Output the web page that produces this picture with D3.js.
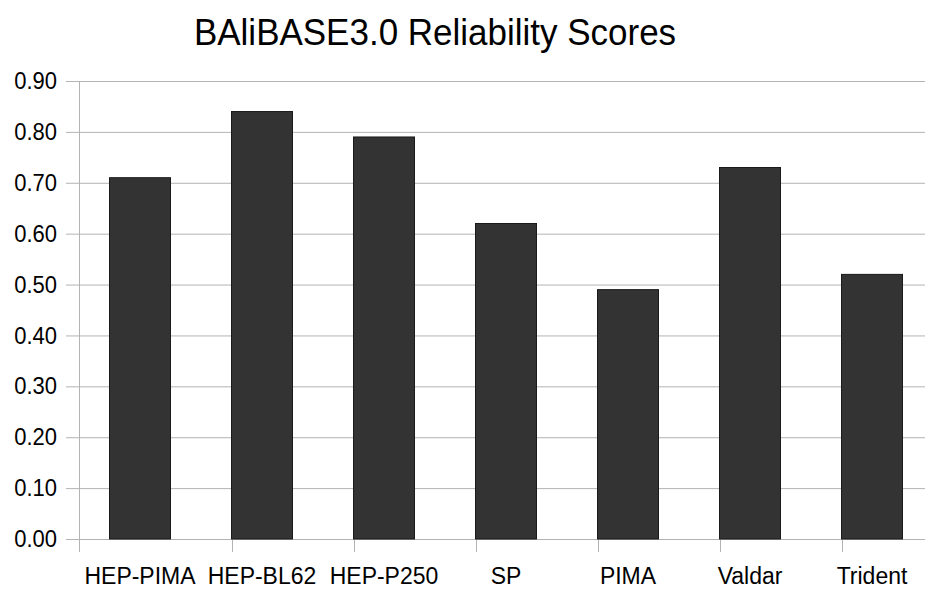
<!DOCTYPE html>
<html>
<head>
<meta charset="utf-8">
<script src="https://cdn.jsdelivr.net/npm/d3@7"></script>
<style>
  body { margin: 0; background: #fff; }
  text { font-family: "Liberation Sans", Arial, sans-serif; fill: #000; }
</style>
</head>
<body>
<div id="chart"></div>
<script>
// data
var methods = ["HEP-PIMA", "HEP-BL62", "HEP-P250", "SP", "PIMA", "Valdar", "Trident"];
var scores = [0.71, 0.84, 0.79, 0.62, 0.49, 0.73, 0.52];
var yTicks = [0, 0.1, 0.2, 0.3, 0.4, 0.5, 0.6, 0.7, 0.8, 0.9];

var width = 925,
    height = 589,
    stretch = 1.08;  // original text looks slightly tall

var svg = d3.select("#chart").append("svg")
    .attr("width", width)
    .attr("height", height);

// plot runs a bit past the right edge, like the original
var x = d3.scaleBand()
    .domain(methods)
    .range([79, 79 + 122 * methods.length])
    .paddingInner(0.5)
    .paddingOuter(0.25);

var y = d3.scaleLinear()
    .domain([0, 0.9])
    .range([539, 81]);

svg.append("text")
    .attr("transform", "translate(435,45) scale(1," + stretch + ")")
    .attr("text-anchor", "middle")
    .style("font-size", "35px")
    .text("BAliBASE3.0 Reliability Scores");

// gridlines + y labels
var yAxis = svg.append("g")
    .attr("transform", "translate(79,0)")
    .call(d3.axisLeft(y)
      .tickValues(yTicks)
      .tickFormat(d3.format(".2f"))
      .tickSize(-(width - 79))
      .tickPadding(22));
yAxis.select(".domain").remove();
yAxis.selectAll(".tick line")
    .attr("x1", -13)
    .attr("stroke", "#b3b3b3");
yAxis.selectAll(".tick text")
    .attr("transform", "scale(1," + stretch + ")")
    .style("font-size", "22px")
    .style("font-family", "'Liberation Sans', Arial, sans-serif")
    .attr("fill", "#000");

// y axis line
svg.append("line")
    .attr("x1", 79.5).attr("x2", 79.5)
    .attr("y1", y(0.9)).attr("y2", 552)
    .attr("stroke", "#b3b3b3");

// category ticks between bands
svg.append("g")
  .selectAll("line")
  .data(methods)
  .enter().append("line")
    .attr("x1", function(d) { return Math.round(x(d) + x.bandwidth() * 1.5 + x.step() * 0.25) + 0.5; })
    .attr("x2", function(d) { return Math.round(x(d) + x.bandwidth() * 1.5 + x.step() * 0.25) + 0.5; })
    .attr("y1", y(0))
    .attr("y2", 552)
    .attr("stroke", "#b3b3b3");

svg.append("g")
  .selectAll("rect")
  .data(scores)
  .enter().append("rect")
    .attr("x", function(d, i) { return x(methods[i]); })
    .attr("y", function(d) { return y(d); })
    .attr("width", x.bandwidth())
    .attr("height", function(d) { return y(0) - y(d); })
    .attr("fill", "#333333")
    .attr("stroke", "#1a1a1a")
    .attr("stroke-width", 1);

svg.append("g")
  .selectAll("text")
  .data(methods)
  .enter().append("text")
    .attr("transform", function(d) { return "translate(" + (x(d) + x.bandwidth() / 2) + ",584) scale(1," + stretch + ")"; })
    .attr("text-anchor", "middle")
    .style("font-size", "23px")
    .text(function(d) { return d; });
</script>
</body>
</html>
